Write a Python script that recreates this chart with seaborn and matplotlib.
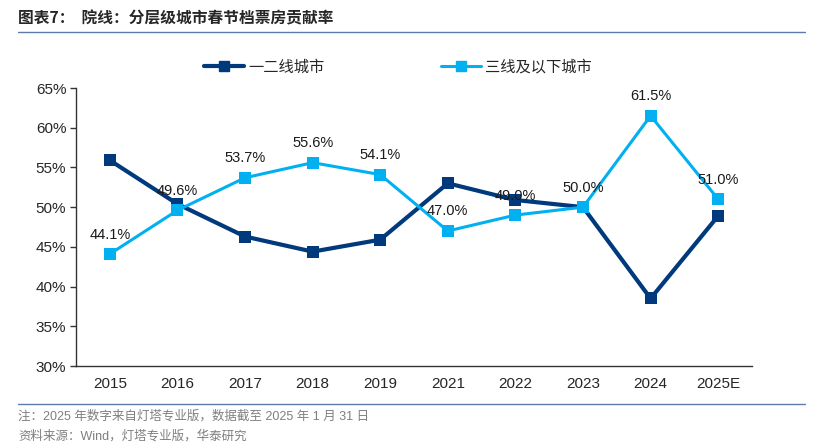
import pandas as pd
import seaborn as sns
import matplotlib.pyplot as plt
from matplotlib.lines import Line2D

# data
years = ['2015', '2016', '2017', '2018', '2019', '2021', '2022', '2023', '2024', '2025E']
tier12 = [55.9, 50.4, 46.3, 44.4, 45.9, 53.0, 50.9, 50.0, 38.5, 48.9]
tier3 = [44.1, 49.6, 53.7, 55.6, 54.1, 47.0, 49.0, 50.0, 61.5, 51.0]
series_names = ['一二线城市', '三线及以下城市']

dark = '#003A7D'
light = '#00B0F0'

sns.set_theme(style='white')
plt.rcParams['font.family'] = ['Liberation Sans', 'Noto Sans CJK SC', 'DejaVu Sans']

df = pd.DataFrame({
    'x': list(range(len(years))) * 2,
    'value': tier12 + tier3,
    'series': [series_names[0]] * len(years) + [series_names[1]] * len(years),
})

fig = plt.figure(figsize=(8.14, 4.48), dpi=100)
ax = fig.add_axes([76 / 814, 1 - 366 / 448, (752 - 76) / 814, (366 - 88) / 448])

sns.lineplot(data=df[df['series'] == series_names[0]], x='x', y='value', ax=ax,
             color=dark, linewidth=3, marker='s', markersize=8.5,
             markeredgewidth=0, legend=False)
sns.lineplot(data=df[df['series'] == series_names[1]], x='x', y='value', ax=ax,
             color=light, linewidth=2.2, marker='s', markersize=8,
             markeredgewidth=0, legend=False)

# labels above the light series
for i, v in enumerate(tier3):
    ax.annotate(f'{v:.1f}%', (i, v), xytext=(0, 9), textcoords='offset points',
                ha='center', va='bottom', fontsize=10.5, color='#1a1a1a')

ax.set_xlim(-0.5, len(years) - 0.5)
ax.set_ylim(30, 65)
ax.set_yticks(range(30, 66, 5))
ax.set_yticklabels([f'{t}%' for t in range(30, 66, 5)], fontsize=11)
ax.set_xticks(range(len(years)))
ax.set_xticklabels(years, fontsize=11)
ax.set_xticks([i + 0.5 for i in range(-1, len(years))], minor=True)
ax.tick_params(axis='x', which='major', length=0, pad=8)
ax.tick_params(axis='x', which='minor', length=4, width=1, color='#333333', direction='out')
ax.tick_params(axis='y', length=4, width=1, color='#333333', direction='out', left=True, pad=3)
ax.set_xlabel('')
ax.set_ylabel('')
for s in ['top', 'right']:
    ax.spines[s].set_visible(False)
for s in ['left', 'bottom']:
    ax.spines[s].set_color('#333333')
    ax.spines[s].set_linewidth(1)

handles = [Line2D([], [], color=dark, linewidth=3, marker='s', markersize=7),
           Line2D([], [], color=light, linewidth=2.2, marker='s', markersize=7)]
fig.legend(handles, series_names, loc='center', bbox_to_anchor=(398 / 814, 1 - 67 / 448),
           ncol=2, frameon=False, handlelength=2.6, columnspacing=7.6, handletextpad=0.3,
           prop={'family': ['Noto Sans CJK SC'], 'size': 11})

# title and footer
fig.text(18 / 814, 1 - 18 / 448, '图表7：  院线：分层级城市春节档票房贡献率', fontsize=11.3,
         fontweight='bold', va='center', ha='left', family=['Noto Sans CJK SC'])
fig.add_artist(Line2D([18 / 814, 805 / 814], [1 - 32 / 448] * 2, color='#5B7BA8', linewidth=1))
fig.add_artist(Line2D([18 / 814, 805 / 814], [1 - 404 / 448] * 2, color='#5B7BA8', linewidth=1))
fig.text(18 / 814, 1 - 416 / 448, '注：2025 年数字来自灯塔专业版，数据截至 2025 年 1 月 31 日',
         fontsize=9, color='#7f7f7f', va='center', ha='left',
         family=['Liberation Sans', 'Noto Sans CJK SC'])
fig.text(18 / 814, 1 - 436 / 448, '资料来源：Wind，灯塔专业版，华泰研究',
         fontsize=9, color='#7f7f7f', va='center', ha='left',
         family=['Liberation Sans', 'Noto Sans CJK SC'])

fig.savefig('out.png', dpi=100)
